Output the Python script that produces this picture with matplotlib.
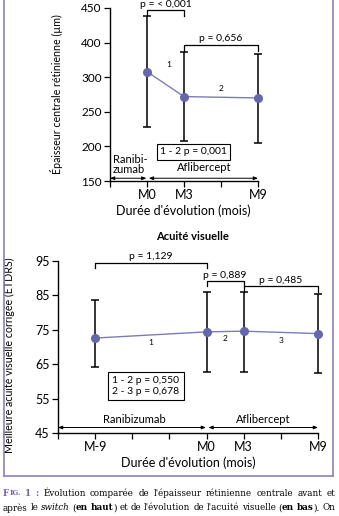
import numpy as np
import matplotlib
matplotlib.use('Agg')
import matplotlib.pyplot as plt
from matplotlib.lines import Line2D

# ---- data: central retinal thickness (top) ----
ert_months = [0, 3, 9]
ert_mean = [308, 272, 270]
ert_hi = [388, 337, 334]
ert_lo = [228, 208, 205]
ert_yticks = [150, 200, 250, 300, 350, 400]
ert_yticklabels = ['150', '200', '250', '300', '400', '450']
ert_xticks = [-3, 0, 3, 6, 9]
ert_xticklabels = ['', 'M0', 'M3', '', 'M9']
ert_brackets = [(0, 3, 397, 'p = < 0,001'), (3, 9, 347, 'p = 0,656')]

# ---- data: visual acuity (bottom) ----
va_months = [-9, 0, 3, 9]
va_mean = [72.6, 74.4, 74.6, 73.9]
va_hi = [83.8, 85.9, 86.0, 85.5]
va_lo = [64.3, 62.8, 62.8, 62.5]
va_yticks = [45, 55, 65, 75, 85, 95]
va_xticks = [-12, -9, -6, -3, 0, 3, 6, 9]
va_xticklabels = ['', 'M-9', '', '', 'M0', 'M3', '', 'M9']
va_brackets = [(-9, 0, 94.5, 'p = 1,129'), (0, 3, 89.1, 'p = 0,889'), (3, 9, 87.6, 'p = 0,485')]

W, H = 339, 516
PURPLE = '#6666ad'
FONT = 'Lato'

plt.rcParams['font.family'] = [FONT, 'DejaVu Sans']
fig = plt.figure(figsize=(W / 100, H / 100), dpi=100)
fig.patch.set_facecolor('white')


def px_axes(x0, y0, x1, y1):
    # pixel box (left, top, right, bottom) -> axes
    return fig.add_axes([x0 / W, 1 - y1 / H, (x1 - x0) / W, (y1 - y0) / H])


def style_axes(ax, labelsize):
    for s in ['top', 'right']:
        ax.spines[s].set_visible(False)
    for s in ['left', 'bottom']:
        ax.spines[s].set_linewidth(1.0)
    ax.tick_params(direction='out', length=4, width=0.9, labelsize=labelsize, pad=2)
    ax.set_facecolor('none')


def draw_series(ax, x, mean, hi, lo):
    mean = np.array(mean)
    err = [mean - np.array(lo), np.array(hi) - mean]
    ax.errorbar(x, mean, yerr=err, fmt='none', ecolor='black', elinewidth=1.1,
                capsize=2.6, capthick=1.1, clip_on=False, zorder=2)
    ax.plot(x, mean, '-', color='#7c7cbc', lw=1.0, zorder=3, clip_on=False)
    ax.plot(x, mean, 'o', color=PURPLE, ms=5.5, zorder=4, clip_on=False)


def bracket(ax, x0, x1, y, drop, label, size=7.5):
    ax.plot([x0, x0, x1, x1], [y - drop, y, y, y - drop], color='black', lw=0.9, clip_on=False)
    ax.annotate(label, xy=((x0 + x1) / 2, y), xytext=(0, 1), textcoords='offset points',
                ha='center', va='bottom', fontsize=size, annotation_clip=False)


def darrow(ax, x0, x1, y):
    ax.annotate('', xy=(x1, y), xytext=(x0, y), annotation_clip=False,
                arrowprops=dict(arrowstyle='<|-|>,head_length=0.25,head_width=0.1',
                                color='black', lw=0.7, shrinkA=0, shrinkB=0))


# ================= top chart =================
ax1 = px_axes(110, 8, 258, 181)
style_axes(ax1, 8.5)
draw_series(ax1, ert_months, ert_mean, ert_hi, ert_lo)
ax1.set_xlim(-3, 9)
ax1.set_ylim(150, 400)
ax1.set_yticks(ert_yticks)
ax1.set_yticklabels(ert_yticklabels)
ax1.set_xticks(ert_xticks)
ax1.set_xticklabels(ert_xticklabels, fontsize=9)
ax1.set_ylabel('Épaisseur centrale rétinienne (µm)', fontsize=7.7)
ax1.yaxis.set_label_coords(-0.32, 0.5)
for x0, x1, y, lab in ert_brackets:
    bracket(ax1, x0, x1, y, 9, lab)
ax1.text(1.75, 318, '1', fontsize=6, ha='center', va='center')
ax1.text(6.0, 284, '2', fontsize=6, ha='center', va='center')
ax1.text(3.75, 192, '1 - 2 p = 0,001', fontsize=7.5, ha='center', va='center',
         bbox=dict(boxstyle='square,pad=0.3', fc='white', ec='black', lw=0.8))
ax1.text(-2.75, 174, 'Ranibi-\nzumab', fontsize=8, ha='left', va='center', linespacing=0.9)
ax1.text(4.6, 169, 'Aflibercept', fontsize=8, ha='center', va='center')
darrow(ax1, -3, -0.05, 154)
darrow(ax1, 0.15, 9, 154)
fig.text(183 / W, 1 - 211 / H, "Durée d'évolution (mois)", fontsize=9, ha='center', va='center')

# ================= bottom chart =================
ax2 = px_axes(58, 261, 318, 433)
style_axes(ax2, 9)
draw_series(ax2, va_months, va_mean, va_hi, va_lo)
ax2.set_xlim(-12, 9)
ax2.set_ylim(45, 95)
ax2.set_yticks(va_yticks)
ax2.set_xticks(va_xticks)
ax2.set_xticklabels(va_xticklabels, fontsize=9)
ax2.set_ylabel('Meilleure acuité visuelle corrigée (ETDRS)', fontsize=7.7)
ax2.yaxis.set_label_coords(-0.165, 0.45)
for x0, x1, y, lab in va_brackets:
    bracket(ax2, x0, x1, y, 1.5, lab)
ax2.text(-4.5, 71.4, '1', fontsize=6, ha='center', va='center')
ax2.text(1.5, 72.5, '2', fontsize=6, ha='center', va='center')
ax2.text(6.0, 72.0, '3', fontsize=6, ha='center', va='center')
ax2.text(-7.6, 58.6, '1 - 2 p = 0,550\n2 - 3 p = 0,678', fontsize=7.5, ha='left', va='center',
         linespacing=1.3, bbox=dict(boxstyle='square,pad=0.4', fc='white', ec='black', lw=0.8))
ax2.text(-5.8, 49.0, 'Ranibizumab', fontsize=8, ha='center', va='center')
ax2.text(4.6, 49.0, 'Aflibercept', fontsize=8, ha='center', va='center')
darrow(ax2, -12, -0.05, 46.6)
darrow(ax2, 0.15, 9, 46.6)
fig.text(193 / W, 1 - 237 / H, 'Acuité visuelle', fontsize=8, fontweight='bold',
         ha='center', va='center')
fig.text(188 / W, 1 - 463 / H, "Durée d'évolution (mois)", fontsize=9, ha='center', va='center')

# ---- frame around the figure ----
fc = '#8e82bb'
fig.add_artist(Line2D([3.5 / W, 3.5 / W], [1, 1 - 476 / H], color=fc, lw=1.2))
fig.add_artist(Line2D([333 / W, 333 / W], [1, 1 - 476 / H], color=fc, lw=1.2))
fig.add_artist(Line2D([3.5 / W, 333 / W], [1 - 476 / H, 1 - 476 / H], color=fc, lw=1.2))

# ---- caption, justified lines ----
SERIF = 'DejaVu Serif'
nb = {}
bd = {'fontweight': 'bold'}
it = {'fontstyle': 'italic'}
pu = {'fontweight': 'bold', 'color': '#7563a8'}
cap1 = [[('F', pu), ('IG.', dict(pu, fontsize=5))], [('1', pu)], [(':', pu)],
        [('Évolution', nb)], [('comparée', nb)], [('de', nb)], [("l'épaisseur", nb)],
        [('rétinienne', nb)], [('centrale', nb)], [('avant', nb)], [('et', nb)]]
cap2 = [[('après', nb)], [('le', nb)], [('switch', it)], [('(', nb), ('en', bd)],
        [('haut', bd), (')', nb)], [('et', nb)], [('de', nb)], [("l'évolution", nb)],
        [('de', nb)], [("l'acuité", nb)], [('visuelle', nb)], [('(', nb), ('en', bd)],
        [('bas', bd), (').', nb)], [('On', nb)]]

renderer = fig.canvas.get_renderer()


def justify(words, y, x0, x1, size=6.3):
    placed = []
    for word in words:
        pieces = []
        for txt, kw in word:
            kw = dict(kw)
            fs = kw.pop('fontsize', size)
            t = fig.text(0, 1 - y / H, txt, fontsize=fs, family=SERIF, va='center', ha='left', **kw)
            pieces.append((t, t.get_window_extent(renderer).width))
        placed.append(pieces)
    total = sum(w for p in placed for _, w in p)
    gap = (x1 - x0 - total) / (len(placed) - 1)
    x = x0
    for pieces in placed:
        for t, w in pieces:
            t.set_x(x / W)
            x += w
        x += gap


justify(cap1, 493, 3, 335)
justify(cap2, 508, 3, 335)

fig.savefig('out.png', dpi=100)
